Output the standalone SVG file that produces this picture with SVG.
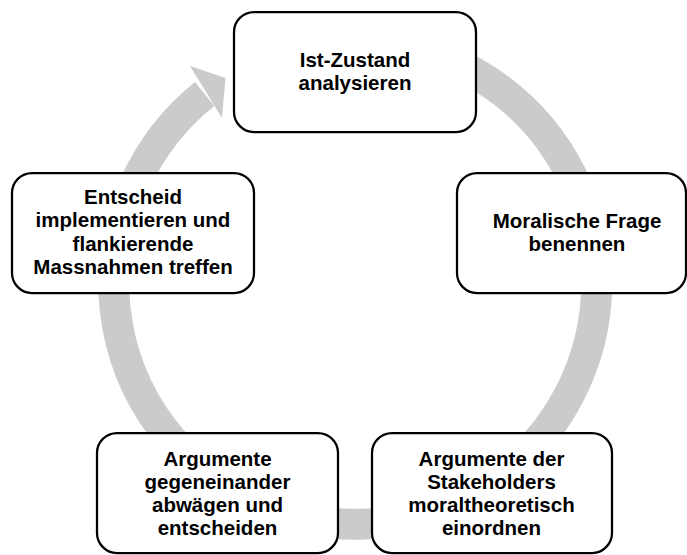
<svg xmlns="http://www.w3.org/2000/svg" width="687" height="555" viewBox="0 0 687 555">
  <style>
    .box { fill: #ffffff; stroke: #000000; stroke-width: 2.25; }
    .lbl { font-family: "Liberation Sans", Arial, sans-serif; font-weight: bold; font-size: 20.5px; fill: #000000; text-anchor: middle; }
    .ring { fill: none; stroke: #cbcbcb; stroke-width: 31; stroke-linecap: butt; }
    .head { fill: #cbcbcb; }
  </style>
  <rect width="687" height="555" fill="#ffffff"/>
  <g id="connectors">
    <path class="ring" d="M 252.9 64.1 A 241.5 241.5 0 1 1 204.7 94.0"/>
    <polygon class="head" points="190,66 225.5,78 222,118"/>
  </g>
  <g id="node-ist">
    <rect class="box" x="234" y="12" width="242" height="120" rx="20" ry="20"/>
    <text class="lbl" x="355" y="66.5">Ist-Zustand</text>
    <text class="lbl" x="355" y="90">analysieren</text>
  </g>
  <g id="node-frage">
    <rect class="box" x="457" y="173" width="229" height="120" rx="20" ry="20"/>
    <text class="lbl" x="577" y="227.5">Moralische Frage</text>
    <text class="lbl" x="577" y="251">benennen</text>
  </g>
  <g id="node-einordnen">
    <rect class="box" x="372" y="433" width="240" height="120" rx="20" ry="20"/>
    <text class="lbl" x="491.5" y="466">Argumente der</text>
    <text class="lbl" x="491.5" y="489">Stakeholders</text>
    <text class="lbl" x="491.5" y="512">moraltheoretisch</text>
    <text class="lbl" x="491.5" y="535">einordnen</text>
  </g>
  <g id="node-abwaegen">
    <rect class="box" x="97" y="433" width="241" height="120" rx="20" ry="20"/>
    <text class="lbl" x="217.5" y="466">Argumente</text>
    <text class="lbl" x="217.5" y="489">gegeneinander</text>
    <text class="lbl" x="217.5" y="512">abwägen und</text>
    <text class="lbl" x="217.5" y="535">entscheiden</text>
  </g>
  <g id="node-entscheid">
    <rect class="box" x="12" y="173" width="242" height="120" rx="20" ry="20"/>
    <text class="lbl" x="133" y="203.5">Entscheid</text>
    <text class="lbl" x="133" y="227">implementieren und</text>
    <text class="lbl" x="133" y="250.5">flankierende</text>
    <text class="lbl" x="133" y="274">Massnahmen treffen</text>
  </g>
</svg>
